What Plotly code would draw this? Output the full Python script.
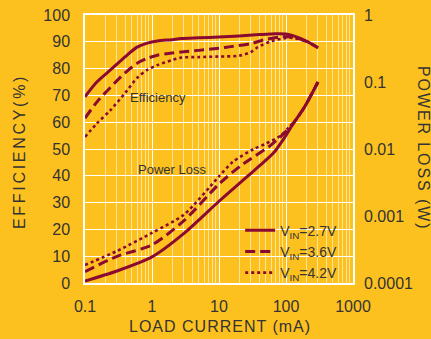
import plotly.graph_objects as go

# ---- data ----
series_names = ["V<sub>IN</sub>=2.7V", "V<sub>IN</sub>=3.6V", "V<sub>IN</sub>=4.2V"]

eff_x_27 = [0.1, 0.15, 0.24, 0.4, 0.6, 0.85, 1.2, 2, 2.7, 5, 10, 20, 40, 70, 100, 130, 200, 300]
eff_y_27 = [69.5, 75, 79.5, 84.5, 88, 89.5, 90.3, 90.8, 91.2, 91.5, 91.8, 92.2, 92.7, 93, 92.9, 92.2, 90.3, 87.8]

eff_x_36 = [0.1, 0.15, 0.24, 0.4, 0.6, 0.85, 1.2, 2, 2.7, 5, 10, 15, 30, 46, 83, 130, 200, 300]
eff_y_36 = [61.5, 67.5, 73, 78.5, 82, 83.8, 85, 85.8, 86.2, 86.8, 87.6, 88.2, 89.3, 90.7, 91.8, 91.8, 90.2, 87.8]

eff_x_42 = [0.1, 0.15, 0.24, 0.4, 0.6, 0.85, 1.2, 2, 2.7, 5, 10, 20, 30, 38, 60, 115, 200, 300]
eff_y_42 = [54.5, 59.5, 64.5, 71, 76.5, 79.5, 81.3, 83.2, 84.1, 84.3, 84.5, 84.8, 86.2, 88, 90.2, 91.5, 90.2, 87.8]

loss_x_27 = [0.1, 0.3, 1, 3, 10, 25, 40, 65, 95, 130, 190, 300]
loss_w_27 = [1.07e-4, 1.51e-4, 2.45e-4, 5.5e-4, 1.66e-3, 3.7e-3, 5.6e-3, 8.7e-3, 1.48e-2, 2.45e-2, 4.27e-2, 0.1]

loss_x_36 = [0.1, 0.3, 1, 3, 10, 21, 60, 95, 130, 190, 300]
loss_w_36 = [1.48e-4, 2.5e-4, 3.7e-4, 8.5e-4, 3.0e-3, 5.6e-3, 1.15e-2, 1.74e-2, 2.45e-2, 4.27e-2, 0.1]

loss_x_42 = [0.1, 0.3, 1, 3, 10, 16, 33, 50, 83, 110, 150, 200, 300]
loss_w_42 = [1.86e-4, 3.0e-4, 5.6e-4, 1.05e-3, 3.9e-3, 6.4e-3, 1.0e-2, 1.2e-2, 1.58e-2, 2.1e-2, 2.95e-2, 4.7e-2, 0.1]

x_tick_vals = [0.1, 1, 10, 100, 1000]
x_tick_text = ["0.1", "1", "10", "100", "1000"]
eff_tick_vals = [0, 10, 20, 30, 40, 50, 60, 70, 80, 90, 100]
loss_tick_vals = [0.0001, 0.001, 0.01, 0.1, 1]
loss_tick_text = ["0.0001", "0.001", "0.01", "0.1", "1"]

# ---- style ----
BG = "#FDC11F"
RED = "#8B0A2F"
TXT = "#333333"
NARROW = "Liberation Sans Narrow, Arial Narrow, sans-serif"
SANS = "Liberation Sans, Arial, sans-serif"

styles = [dict(dash="solid", width=3), dict(dash="10px,5px", width=3), dict(dash="dot", width=2.6)]

fig = go.Figure()
effs = [(eff_x_27, eff_y_27), (eff_x_36, eff_y_36), (eff_x_42, eff_y_42)]
losses = [(loss_x_27, loss_w_27), (loss_x_36, loss_w_36), (loss_x_42, loss_w_42)]

for (ex, ey), name, st in zip(effs, series_names, styles):
    fig.add_trace(go.Scatter(x=ex, y=ey, mode="lines", name=name,
                             line=dict(color=RED, width=st["width"], dash=st["dash"], shape="spline", smoothing=0.8),
                             showlegend=True, yaxis="y"))
for (lx, lw), name, st in zip(losses, series_names, styles):
    fig.add_trace(go.Scatter(x=lx, y=lw, mode="lines", name=name,
                             line=dict(color=RED, width=st["width"], dash=st["dash"], shape="spline", smoothing=0.7),
                             showlegend=False, yaxis="y2"))

fig.update_layout(
    width=431, height=339,
    margin=dict(l=85, r=78, t=15, b=56, autoexpand=False),
    paper_bgcolor=BG, plot_bgcolor=BG,
    font=dict(family=NARROW, size=16, color=TXT),
    xaxis=dict(type="log", range=[-1, 3], tickvals=x_tick_vals, ticktext=x_tick_text,
               showgrid=True, gridcolor="white", gridwidth=1,
               minor=dict(showgrid=True, gridcolor="rgba(255,255,255,0.55)", gridwidth=1, dtick="D1"),
               showline=True, linecolor="white", linewidth=1.5, mirror=True, automargin=False,
               ticks="", ticklabelstandoff=8, zeroline=False),
    yaxis=dict(range=[0, 100], tickvals=eff_tick_vals, showgrid=True, gridcolor="white", gridwidth=1,
               showline=True, linecolor="white", linewidth=1.5, mirror=True, automargin=False,
               ticks="", ticklabelstandoff=10, zeroline=False),
    yaxis2=dict(type="log", range=[-4, 0], overlaying="y", side="right", automargin=False,
                tickvals=loss_tick_vals, ticktext=loss_tick_text, showgrid=False,
                ticks="", ticklabelstandoff=10, zeroline=False),
    legend=dict(x=0.579, y=0.255, xanchor="left", yanchor="top", bgcolor="rgba(0,0,0,0)",
                font=dict(family=NARROW, size=14, color=TXT), tracegroupgap=0),
    showlegend=True,
)

fig.add_annotation(x=0.094, y=69.4, xref="x", yref="y", text="Efficiency", showarrow=False,
                   font=dict(family=NARROW, size=13, color=TXT))
fig.add_annotation(x=0.30, y=42.2, xref="x", yref="y", text="Power Loss", showarrow=False,
                   font=dict(family=NARROW, size=13, color=TXT))

fig.add_annotation(x=-0.244, y=0.491, xref="paper", yref="paper", xanchor="center", yanchor="middle",
                   textangle=-90,
                   text='<span style="letter-spacing:2.7px">EFFICIENCY(%)</span>', showarrow=False,
                   font=dict(family=SANS, size=16, color=TXT))
fig.add_annotation(x=1.261, y=0.504, xref="paper", yref="paper", xanchor="center", yanchor="middle",
                   textangle=90,
                   text='<span style="letter-spacing:1.9px">POWER LOSS (W)</span>', showarrow=False,
                   font=dict(family=SANS, size=16, color=TXT))
fig.add_annotation(x=0.504, y=-0.164, xref="paper", yref="paper", xanchor="center", yanchor="middle",
                   text='<span style="letter-spacing:1px">LOAD CURRENT (mA)</span>', showarrow=False,
                   font=dict(family=SANS, size=16, color=TXT))

fig.write_html("out.html", config={"displayModeBar": False},
               post_script="document.body.style.margin='0';document.body.style.padding='0';"
                           "document.documentElement.style.overflow='hidden';")
